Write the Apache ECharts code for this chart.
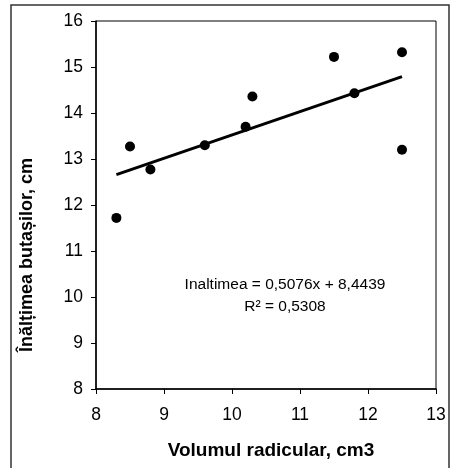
<!DOCTYPE html>
<html>
<head>
<meta charset="utf-8">
<script src="https://cdn.jsdelivr.net/npm/echarts@6/dist/echarts.min.js"></script>
<style>
html,body{margin:0;padding:0;background:#fff;}
#chart{width:451px;height:468px;}
</style>
</head>
<body>
<div id="chart"></div>
<script>
// Data
var volumX = [8.3, 8.5, 8.8, 9.6, 10.2, 10.3, 11.5, 11.8, 12.5, 12.5];
var inaltimeY = [11.72, 13.27, 12.77, 13.30, 13.70, 14.36, 15.22, 14.43, 15.32, 13.20];
var trendX = [8.3, 12.5];
var trendY = [12.66, 14.79];
var xTicks = [8, 9, 10, 11, 12, 13];
var yTicks = [8, 9, 10, 11, 12, 13, 14, 15, 16];
var xTitle = 'Volumul radicular, cm3';
var yTitle = 'Înălțimea butașilor, cm';
var eqText = 'Inaltimea = 0,5076x + 8,4439';
var r2Text = 'R² = 0,5308';

var pts = volumX.map(function (x, i) { return [x, inaltimeY[i]]; });
var trend = trendX.map(function (x, i) { return [x, trendY[i]]; });

var FONT = '"Liberation Sans", Arial, sans-serif';
var chart = echarts.init(document.getElementById('chart'), null, {renderer: 'canvas'});
chart.setOption({
  animation: false,
  backgroundColor: '#fff',
  grid: {left: 96, right: 15, top: 21, bottom: 79, show: true, borderColor: '#000', borderWidth: 1, backgroundColor: 'transparent'},
  xAxis: {
    type: 'value', min: xTicks[0], max: xTicks[xTicks.length - 1], interval: 1,
    axisLine: {show: true, lineStyle: {color: '#000', width: 1.5}},
    axisTick: {show: true, length: 5, lineStyle: {color: '#000'}},
    axisLabel: {color: '#000', fontSize: 17.5, fontFamily: FONT, margin: 17},
    splitLine: {show: false}
  },
  yAxis: {
    type: 'value', min: yTicks[0], max: yTicks[yTicks.length - 1], interval: 1,
    axisLine: {show: true, lineStyle: {color: '#000', width: 1.5}},
    axisTick: {show: true, length: 5, lineStyle: {color: '#000'}},
    axisLabel: {color: '#000', fontSize: 17.5, fontFamily: FONT, margin: 13},
    splitLine: {show: false}
  },
  series: [
    {type: 'scatter', data: pts, symbol: 'circle', symbolSize: 10, itemStyle: {color: '#000', opacity: 1}, z: 3},
    {type: 'line', data: trend, symbol: 'none', lineStyle: {color: '#000', width: 3}, z: 2}
  ],
  graphic: [
    {type: 'rect', shape: {x: 11, y: 5, width: 438, height: 520}, style: {fill: 'none', stroke: '#333', lineWidth: 1.5}, silent: true},
    {type: 'text', x: 27, y: 255, rotation: Math.PI / 2, style: {text: yTitle, font: 'bold 18px ' + FONT, fill: '#000', textAlign: 'center', textVerticalAlign: 'middle'}},
    {type: 'text', x: 271, y: 451, style: {text: xTitle, font: 'bold 19px ' + FONT, fill: '#000', textAlign: 'center', textVerticalAlign: 'middle'}},
    {type: 'text', x: 285, y: 285, style: {text: eqText, font: '15.5px ' + FONT, fill: '#000', textAlign: 'center', textVerticalAlign: 'middle'}},
    {type: 'text', x: 285, y: 307, style: {text: r2Text, font: '15.5px ' + FONT, fill: '#000', textAlign: 'center', textVerticalAlign: 'middle'}}
  ]
});
</script>
</body>
</html>
